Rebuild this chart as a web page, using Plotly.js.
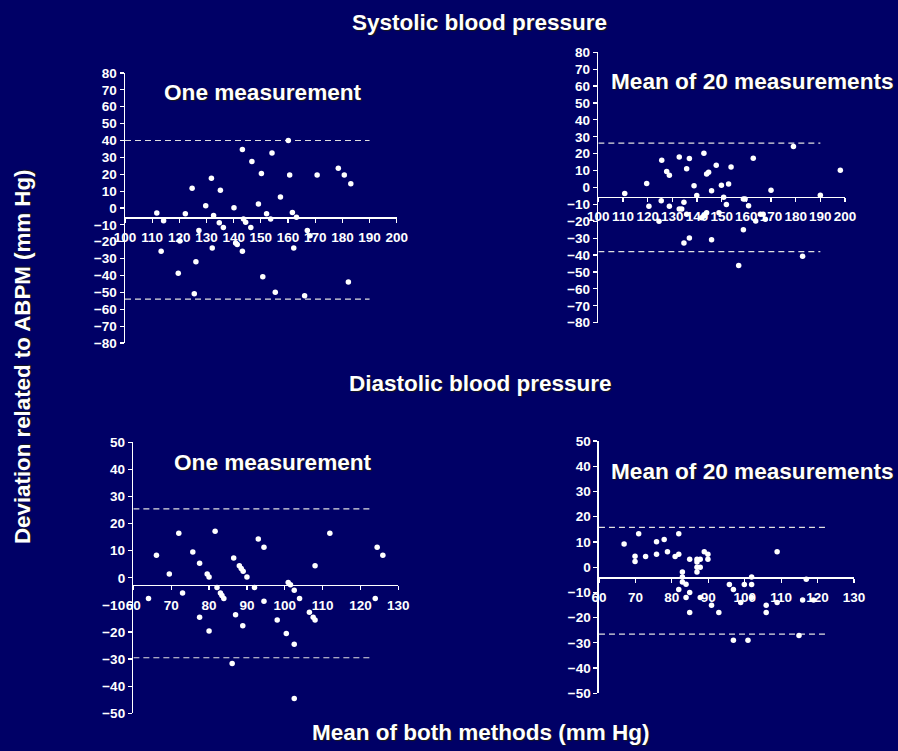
<!DOCTYPE html>
<html><head><meta charset="utf-8">
<script src="https://cdn.plot.ly/plotly-3.0.1.min.js"></script>
<style>html,body{margin:0;padding:0;background:#000066;}#chart{width:898px;height:751px;}</style>
</head><body><div id="chart"></div>
<script>
// ---- Systolic, one measurement ----
const sysOneX = [111.7,114.2,113.3,122.2,120.2,119.6,124.7,127.2,126.1,125.5,129.7,131.8,132.6,132.1,134.7,135.1,136.2,140.1,140.7,141.3,143.2,143.6,144.4,143.2,146.3,146.7,149.1,150.2,152.1,153.6,150.7,154.1,155.3,157.2,160.1,160.6,161.6,163.1,162.1,166.1,167.1,168.1,170.7,178.5,180.7,183.1,182.2];
const sysOneY = [-3,-7.5,-25.7,-3.4,-19.6,-38.7,11.7,-13.4,-31.8,-50.8,1.4,17.6,-4.5,-23.7,-8.7,10.5,-11.5,0.2,-20.7,-21.7,34.6,-6.5,-8.5,-25.7,-11.5,27.5,2.4,20.5,-3.4,-6.5,-40.7,32.6,-50,6.5,40,19.6,-2.6,-5.5,-23.7,-52,-13.4,-16.4,19.6,23.5,19.6,14.4,-43.9];
const sysOneMean = -5.5;
const sysOneLimits = [40, -54];
const sysOneLimitSpan = [100, 190];

// ---- Systolic, mean of 20 measurements ----
const sysMeanX = [110.7,119.6,120.5,125.7,125.5,124.6,127.7,128.8,128.8,132.8,132.8,133.8,134.7,134.7,135.8,135.8,136.9,136.9,138.8,139.9,141.9,142.8,142.8,143.9,143.9,144.7,145.9,145.9,147.8,148.9,149.9,150.8,151.9,152.8,153.8,156.9,158.8,159.5,158.8,160.9,162.8,163.8,165.7,166.8,167.7,170.0,179.1,182.8,190.0,198.1];
const sysMeanY = [-3.5,2.3,-11.1,16.1,-7.8,-20,9.4,7.2,-11.1,18,-12.7,-12.7,-8.8,-32.8,11.1,-15.9,17.1,-29.9,1.1,-4.8,-17.9,20.2,-16.9,8,-14.9,9,-1.9,-30.9,13.1,-14.9,1.3,-5.8,-10,2.1,12.1,-46.1,-6.8,-6.8,-25,-10.8,17.3,-19.9,-15.9,-15.9,-18.8,-1.7,24.2,-40.7,-4.6,10.2];
const sysMeanMean = -5.5;
const sysMeanLimits = [26.3, -38];
const sysMeanLimitSpan = [100, 190];

// ---- Diastolic, one measurement ----
const diaOneX = [64.0,66.1,69.5,72.0,73.0,75.7,77.5,77.5,79.5,80.0,80.0,81.6,82.1,83.0,83.4,83.9,86.5,86.1,87.0,88.0,88.5,89.0,88.9,90.0,92.0,93.0,94.5,94.5,98.0,100.4,100.9,101.5,102.5,102.5,102.5,103.9,106.5,107.5,108.0,108.0,111.9,123.9,124.4,125.9];
const diaOneY = [-7.6,8.3,1.4,16.4,-5.6,9.5,5.4,-14.6,1.4,0.3,-19.6,17.2,-3.6,-5.6,-6.5,-7.6,7.3,-31.6,-13.6,4.4,3.4,2.4,-17.7,0.3,-3.6,14.3,11.3,-8.7,-15.6,-20.6,-1.7,-2.6,-4.6,-24.5,-44.5,-7.6,-12.7,-14.6,-15.6,4.4,16.4,-7.6,11.3,8.3];
const diaOneMean = -2.6;
const diaOneLimits = [25.4, -29.5];
const diaOneLimitSpan = [60, 123];

// ---- Diastolic, mean of 20 measurements ----
const diaMeanX = [66.9,69.9,69.9,70.9,72.8,75.8,75.8,77.9,78.8,80.9,81.9,81.9,81.9,82.9,82.9,82.9,83.9,83.9,84.9,84.9,84.9,86.9,86.9,86.9,86.9,87.8,87.8,87.8,88.9,89.9,89.9,90.9,92.9,95.8,96.9,96.9,98.9,99.9,100.9,101.9,101.9,101.9,105.9,105.9,108.9,108.9,114.9,115.9,116.9,118.9];
const diaMeanY = [9.2,4.3,2.2,13.2,4.2,10.1,5.1,11,6.1,4.2,13.2,5.1,-8.9,-1.9,-3.9,-5.9,-6.8,-12,3.1,-10,-18,3.1,2,0,-1.9,3.1,0,-12,6.1,5.1,3.1,-15.1,-18,-6.9,-8.9,-29,-14,-6.9,-29,-3.9,-6.9,-12,-15.1,-18,6.1,-14,-27.1,-13,-4.8,-13];
const diaMeanMean = -4;
const diaMeanLimits = [15.8, -26.5];
const diaMeanLimitSpan = [60, 123];

const sysXRange = [100, 200], sysYRange = [-80, 80];
const diaXRange = [60, 130], diaYRange = [-50, 50];

const mainTitle = "Systolic blood pressure";
const midTitle = "Diastolic blood pressure";
const panelTitles = ["One measurement", "Mean of 20 measurements", "One measurement", "Mean of 20 measurements"];
const yTitle = "Deviation related to ABPM (mm Hg)";
const xTitle = "Mean of both methods (mm Hg)";

const FONT = "Arial, 'Liberation Sans', sans-serif";
const WHITE = "#ffffff";
const BG = "#000066";

const panels = [
  {x: sysOneX, y: sysOneY, mean: sysOneMean, lim: sysOneLimits, span: sysOneLimitSpan, xr: sysXRange, yr: sysYRange, xd: [0.1392, 0.4418], yd: [0.5433, 0.9028]},
  {x: sysMeanX, y: sysMeanY, mean: sysMeanMean, lim: sysMeanLimits, span: sysMeanLimitSpan, xr: sysXRange, yr: sysYRange, xd: [0.6663, 0.9410], yd: [0.5703, 0.9304]},
  {x: diaOneX, y: diaOneY, mean: diaOneMean, lim: diaOneLimits, span: diaOneLimitSpan, xr: diaXRange, yr: diaYRange, xd: [0.1485, 0.4436], yd: [0.0502, 0.4111]},
  {x: diaMeanX, y: diaMeanY, mean: diaMeanMean, lim: diaMeanLimits, span: diaMeanLimitSpan, xr: diaXRange, yr: diaYRange, xd: [0.6670, 0.9510], yd: [0.0768, 0.4128]}
];

const traces = [];
const layout = {
  width: 898, height: 751,
  paper_bgcolor: BG, plot_bgcolor: BG,
  margin: {l: 0, r: 0, t: 0, b: 0},
  showlegend: false,
  font: {family: FONT, color: WHITE},
  annotations: []
};

panels.forEach((p, i) => {
  const n = i + 1;
  const xa = n === 1 ? 'x' : 'x' + n;
  const ya = n === 1 ? 'y' : 'y' + n;
  // limits of agreement
  p.lim.forEach(v => {
    traces.push({x: p.span, y: [v, v], xaxis: xa, yaxis: ya, mode: 'lines', type: 'scatter',
      line: {color: '#e0e0e0', width: 1.2, dash: '6px,4px'}, hoverinfo: 'skip'});
  });
  traces.push({x: p.x, y: p.y, xaxis: xa, yaxis: ya, mode: 'markers', type: 'scatter',
    marker: {color: WHITE, size: 5.5}, cliponaxis: false});
  const pos = p.yd[0] + (p.mean - p.yr[0]) / (p.yr[1] - p.yr[0]) * (p.yd[1] - p.yd[0]);
  layout['xaxis' + (n === 1 ? '' : n)] = {
    domain: p.xd, range: p.xr, anchor: 'free', position: pos,
    showline: true, linecolor: WHITE, linewidth: 1.5, showgrid: false, zeroline: false,
    ticks: 'outside', ticklen: 4, tickwidth: 1.2, tickcolor: WHITE, dtick: 10, tick0: 0,
    ticklabelstandoff: 3,
    tickfont: {family: FONT, size: 13.5, color: WHITE, weight: 'bold'}, fixedrange: true
  };
  layout['yaxis' + (n === 1 ? '' : n)] = {
    domain: p.yd, range: p.yr, anchor: xa,
    showline: true, linecolor: WHITE, linewidth: 1.5, showgrid: false, zeroline: false,
    ticks: 'outside', ticklen: 4, tickwidth: 1.2, tickcolor: WHITE, dtick: 10, tick0: 0,
    tickfont: {family: FONT, size: 13.5, color: WHITE, weight: 'bold'}, fixedrange: true
  };
});

const shadow = '1px 1px 1px #1a1a1a';
function ann(text, x, y, size, angle) {
  const a = {text: text, x: x, y: y, xref: 'paper', yref: 'paper', xanchor: 'center', yanchor: 'middle',
    showarrow: false, font: {family: FONT, size: size, color: WHITE, weight: 'bold', shadow: shadow}};
  if (angle) a.textangle = angle;
  return a;
}
layout.annotations.push(ann(mainTitle, 0.5345, 0.9707, 22.5));
layout.annotations.push(ann(midTitle, 0.5356, 0.490, 22.5));
layout.annotations.push(ann(xTitle, 0.5356, 0.024, 22.5));
layout.annotations.push(ann(yTitle, 0.0245, 0.5246, 22.3, -90));
layout.annotations.push(ann(panelTitles[0], 263.3/898, 1 - 92.2/751, 22.6));
layout.annotations.push(ann(panelTitles[1], 752.3/898, 1 - 81.7/751, 22.6));
layout.annotations.push(ann(panelTitles[2], 273.3/898, 1 - 462.2/751, 22.6));
layout.annotations.push(ann(panelTitles[3], 752.3/898, 1 - 471.7/751, 22.6));

Plotly.newPlot('chart', traces, layout, {staticPlot: true, displayModeBar: false});
</script>
</body></html>
